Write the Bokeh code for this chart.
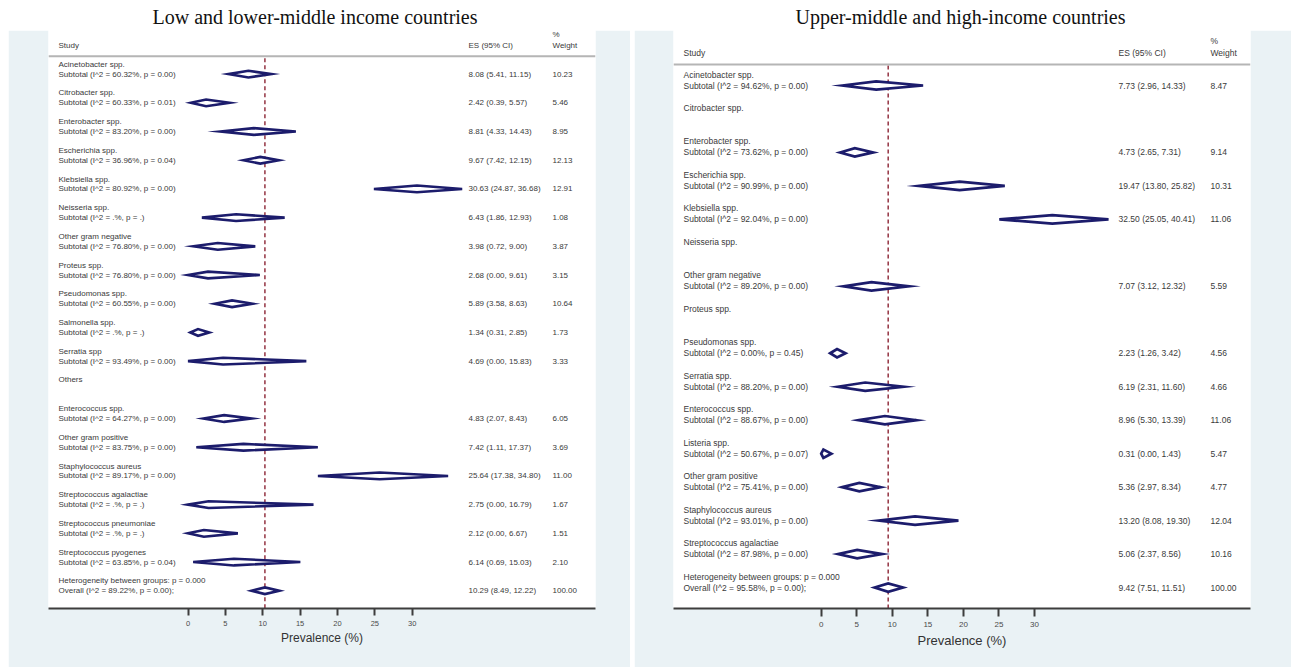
from bokeh.plotting import figure
from bokeh.models import Range1d, FixedTicker, Div, Spacer, ColumnDataSource, Span
from bokeh.layouts import row, column
from bokeh.embed import file_html
from bokeh.resources import INLINE
from bokeh.core.properties import value

# ---------------- data: low and lower-middle income ----------------
L_title = "Low and lower-middle income countries"
L_groups = ["Acinetobacter spp.", "Citrobacter spp.", "Enterobacter spp.", "Escherichia spp.",
            "Klebsiella spp.", "Neisseria spp.", "Other gram negative", "Proteus spp.",
            "Pseudomonas spp.", "Salmonella spp.", "Serratia spp", "Others",
            "Enterococcus spp.", "Other gram positive", "Staphylococcus aureus",
            "Streptococcus agalactiae", "Streptococcus pneumoniae", "Streptococcus pyogenes"]
L_es = [8.08, 2.42, 8.81, 9.67, 30.63, 6.43, 3.98, 2.68, 5.89, 1.34, 4.69, None,
        4.83, 7.42, 25.64, 2.75, 2.12, 6.14]
L_lo = [5.41, 0.39, 4.33, 7.42, 24.87, 1.86, 0.72, 0.00, 3.58, 0.31, 0.00, None,
        2.07, 1.11, 17.38, 0.00, 0.00, 0.69]
L_hi = [11.15, 5.57, 14.43, 12.15, 36.68, 12.93, 9.00, 9.61, 8.63, 2.85, 15.83, None,
        8.43, 17.37, 34.80, 16.79, 6.67, 15.03]
L_wt = [10.23, 5.46, 8.95, 12.13, 12.91, 1.08, 3.87, 3.15, 10.64, 1.73, 3.33, None,
        6.05, 3.69, 11.00, 1.67, 1.51, 2.10]
L_i2 = ["60.32%", "60.33%", "83.20%", "36.96%", "80.92%", ".%", "76.80%", "76.80%",
        "60.55%", ".%", "93.49%", None, "64.27%", "83.75%", "89.17%", ".%", ".%", "63.85%"]
L_p = ["0.00", "0.01", "0.00", "0.04", "0.00", ".", "0.00", "0.00", "0.00", ".", "0.00", None,
       "0.00", "0.00", "0.00", ".", ".", "0.04"]
L_overall = (10.29, 8.49, 12.22, 100.00, "89.22%", "0.00")
L_het = "0.000"

# ---------------- data: upper-middle and high income ----------------
R_title = "Upper-middle and high-income countries"
R_groups = ["Acinetobacter spp.", "Citrobacter spp.", "Enterobacter spp.", "Escherichia spp.",
            "Klebsiella spp.", "Neisseria spp.", "Other gram negative", "Proteus spp.",
            "Pseudomonas spp.", "Serratia spp.", "Enterococcus spp.", "Listeria spp.",
            "Other gram positive", "Staphylococcus aureus", "Streptococcus agalactiae"]
R_es = [7.73, None, 4.73, 19.47, 32.50, None, 7.07, None, 2.23, 6.19, 8.96, 0.31, 5.36, 13.20, 5.06]
R_lo = [2.96, None, 2.65, 13.80, 25.05, None, 3.12, None, 1.26, 2.31, 5.30, 0.00, 2.97, 8.08, 2.37]
R_hi = [14.33, None, 7.31, 25.82, 40.41, None, 12.32, None, 3.42, 11.60, 13.39, 1.43, 8.34, 19.30, 8.56]
R_wt = [8.47, None, 9.14, 10.31, 11.06, None, 5.59, None, 4.56, 4.66, 11.06, 5.47, 4.77, 12.04, 10.16]
R_i2 = ["94.62%", None, "73.62%", "90.99%", "92.04%", None, "89.20%", None, "0.00%",
        "88.20%", "88.67%", "50.67%", "75.41%", "93.01%", "87.98%"]
R_p = ["0.00", None, "0.00", "0.00", "0.00", None, "0.00", None, "0.45", "0.00", "0.00",
       "0.07", "0.00", "0.00", "0.00"]
R_overall = (9.42, 7.51, 11.51, 100.00, "95.58%", "0.00")
R_het = "0.000"

TICKS = [0, 5, 10, 15, 20, 25, 30]

BLUE = "#eaf2f5"
NAVY = "#1c1c6c"
TXT = "#3a3a3a"
FONT = "Liberation Sans"

# page origin = reference (0, 0); figures start at reference y 30
FIG_TOP = 30
FIG_H = 667 - FIG_TOP


def make_panel(groups, es, lo, hi, wt, i2, pv, overall, het, cfg):
    x0, sc = cfg["x0"], cfg["scale"]
    fl, fr, fb = cfg["frame_left"], cfg["frame_right"], cfg["frame_bottom"]

    def dx(px):
        return (px - x0) / sc

    def dy(py):
        return py - FIG_TOP

    p = figure(width=cfg["width"], height=FIG_H, output_backend="svg", toolbar_location=None,
               x_range=Range1d(dx(fl), dx(fr)), y_range=Range1d(fb - FIG_TOP, 0),
               y_axis_location=None, x_axis_location="below",
               min_border_left=int(fl - cfg["fig_left"]), min_border_right=int(cfg["fig_right"] - fr),
               min_border_top=0, min_border_bottom=int(FIG_TOP + FIG_H - fb),
               margin=cfg["margin"])
    p.background_fill_color = "white"
    p.border_fill_color = BLUE
    p.outline_line_color = None
    p.xgrid.visible = False
    p.ygrid.visible = False

    fs = cfg["fs"]
    tx, ty, tt = [], [], []

    # header
    hy = dy(cfg["hdr_y"])
    tx += [dx(cfg["lab_x"]), dx(cfg["es_x"]), dx(cfg["wt_x"]), dx(cfg["wt_x"])]
    ty += [hy, hy, dy(cfg["pct_y"]), hy]
    tt += ["Study", "ES (95% CI)", "%", "Weight"]
    p.add_layout(Span(location=dy(cfg["hline_y"]), dimension="width",
                      line_color="#b5b5b5", line_width=2))

    dxs, dys = [], []
    hh = cfg["dh"]
    y0, step, off = cfg["row_y0"], cfg["step"], cfg["off"]
    for i, g in enumerate(groups):
        yl = dy(y0 + i * step)
        tx.append(dx(cfg["lab_x"])); ty.append(yl); tt.append(g)
        if es[i] is not None:
            ys = yl + off
            tx.append(dx(cfg["lab_x"])); ty.append(ys)
            tt.append(f"Subtotal  (I^2 = {i2[i]}, p = {pv[i]})")
            tx.append(dx(cfg["es_x"])); ty.append(ys)
            tt.append(f"{es[i]:.2f} ({lo[i]:.2f}, {hi[i]:.2f})")
            tx.append(dx(cfg["wt_x"])); ty.append(ys)
            tt.append(f"{wt[i]:.2f}")
            dxs.append([lo[i], es[i], hi[i], es[i]])
            dys.append([ys, ys - hh, ys, ys + hh])

    # overall
    n = len(groups)
    yh = dy(y0 + n * step)
    yo = yh + off
    oes, olo, ohi, owt, oi2, op = overall
    tx += [dx(cfg["lab_x"]), dx(cfg["lab_x"]), dx(cfg["es_x"]), dx(cfg["wt_x"])]
    ty += [yh, yo, yo, yo]
    tt += [f"Heterogeneity between groups: p = {het}",
           f"Overall  (I^2 = {oi2}, p = {op});",
           f"{oes:.2f} ({olo:.2f}, {ohi:.2f})", f"{owt:.2f}"]
    dxs.append([olo, oes, ohi, oes])
    dys.append([yo, yo - hh, yo, yo + hh])

    # reference dashed line at overall estimate
    p.segment(x0=[oes], y0=[dy(cfg["dash_top"])], x1=[oes], y1=[fb - FIG_TOP],
              line_color="#8c2434", line_width=1.4, line_dash="4 3")

    p.patches(xs=dxs, ys=dys, fill_color="white", line_color=NAVY,
              line_width=cfg["dlw"], line_join="miter")

    src = ColumnDataSource(dict(x=tx, y=ty, t=tt))
    p.text(x="x", y="y", text="t", source=src, text_font=value(FONT),
           text_font_size=fs, text_color=TXT, text_baseline="middle", text_align="left")

    ax = p.xaxis[0]
    ax.ticker = FixedTicker(ticks=TICKS)
    ax.axis_label = "Prevalence (%)"
    ax.axis_label_text_font = FONT
    ax.axis_label_text_font_style = "normal"
    ax.axis_label_text_font_size = cfg["axfs"]
    ax.axis_label_text_color = "#333333"
    ax.axis_label_standoff = cfg["als"]
    ax.major_label_text_font = FONT
    ax.major_label_text_font_size = cfg["tfs"]
    ax.major_label_text_color = "#4a4a4a"
    ax.major_label_standoff = 5
    ax.major_tick_in = 0
    ax.major_tick_out = cfg["tick"]
    ax.major_tick_line_width = 2
    ax.major_tick_line_color = "#3d3d3d"
    ax.minor_tick_line_color = None
    ax.axis_line_width = 2
    ax.axis_line_color = "#3d3d3d"
    return p


cfg_left = dict(width=622, margin=(0, 0, 0, 8), fig_left=8, fig_right=630,
                frame_left=48, frame_right=595, frame_bottom=613,
                x0=187.5, scale=7.475,
                lab_x=58, es_x=468, wt_x=552, hdr_y=45, pct_y=34, hline_y=56,
                row_y0=64, step=28.95, off=10, dh=3.4, dlw=2.6, dash_top=58,
                fs="8px", tfs="7.5px", axfs="12px", als=2, tick=7)
cfg_right = dict(width=657, margin=0, fig_left=634, fig_right=1291,
                 frame_left=673, frame_right=1250, frame_bottom=608,
                 x0=820.7, scale=7.11,
                 lab_x=683, es_x=1118, wt_x=1210, hdr_y=52, pct_y=40, hline_y=64,
                 row_y0=74, step=33.47, off=11, dh=4.2, dlw=2.7, dash_top=65,
                 fs="8.5px", tfs="8px", axfs="13px", als=3, tick=8)

p1 = make_panel(L_groups, L_es, L_lo, L_hi, L_wt, L_i2, L_p, L_overall, L_het, cfg_left)
p2 = make_panel(R_groups, R_es, R_lo, R_hi, R_wt, R_i2, R_p, R_overall, R_het, cfg_right)


def title_div(txt, w):
    html = ('<div style="width:%dpx;padding-top:8px;text-align:center;'
            'font-family:\'Liberation Serif\',serif;'
            'font-size:20px;line-height:18px;color:#111;white-space:nowrap;">%s</div>') % (w, txt)
    return Div(text=html, width=w, height=FIG_TOP, margin=0,
               styles={"font-family": "'Liberation Serif', serif", "font-size": "20px",
                       "line-height": "18px", "text-align": "center", "color": "#111"})


d1 = title_div(L_title, 630)
d2 = title_div(R_title, 1291 - 630)

page = column(row(d1, d2), row(p1, Spacer(width=4, height=FIG_H, margin=0), p2))

open("out.html", "w").write(file_html(page, INLINE))
